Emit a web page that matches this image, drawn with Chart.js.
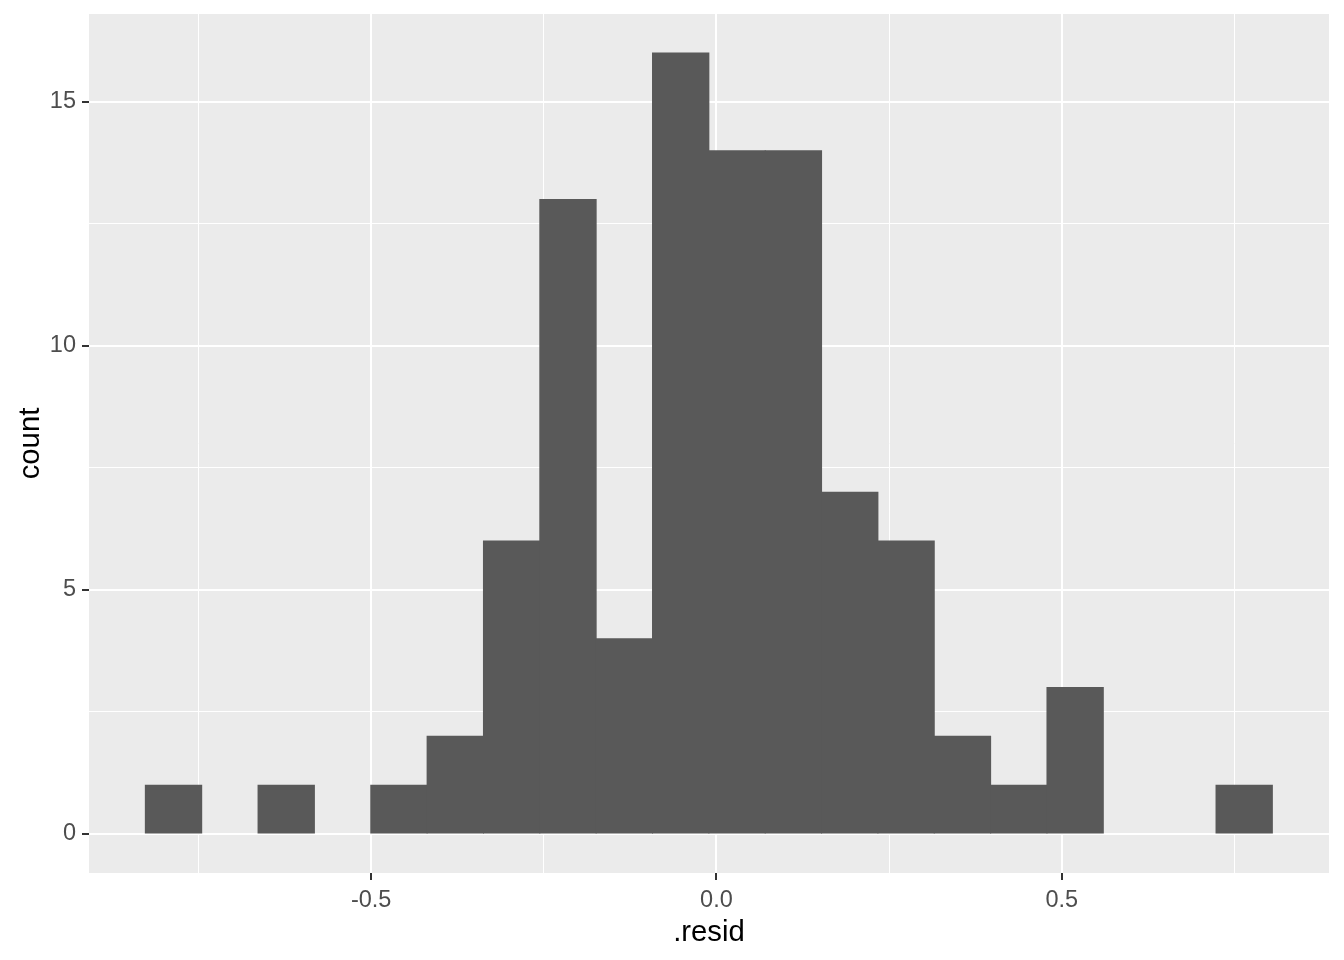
<!DOCTYPE html>
<html>
<head>
<meta charset="utf-8">
<script src="https://cdn.jsdelivr.net/npm/chart.js@4.4.1/dist/chart.umd.min.js"></script>
<style>
  html, body { margin: 0; padding: 0; background: #ffffff; }
  canvas { display: block; }
</style>
</head>
<body>
<canvas id="c" width="1344" height="960"></canvas>
<script>
// Histogram bins (centres) of .resid and their counts
const binCenters = [-0.7862, -0.7046, -0.6230, -0.5414, -0.4598, -0.3782, -0.2966, -0.2150, -0.1334, -0.0518,
                     0.0298,  0.1114,  0.1930,  0.2746,  0.3562,  0.4378,  0.5194,  0.6010,  0.6826,  0.7642];
const counts     = [1, 0, 1, 0, 1, 2, 6, 13, 4, 16, 14, 14, 7, 6, 2, 1, 3, 0, 0, 1];
const xRange = [-0.9086, 0.8870];
const yRange = [-0.8, 16.8];
const xMajorTicks = [-0.5, 0.0, 0.5];
const yMajorTicks = [0, 5, 10, 15];

const FONT = '"Liberation Sans", Arial, sans-serif';
const isMajorX = v => xMajorTicks.some(t => Math.abs(t - v) < 1e-6);
const isMajorY = v => yMajorTicks.some(t => Math.abs(t - v) < 1e-6);

const panelBg = {
  id: 'panelBg',
  beforeDraw(chart) {
    const {ctx, chartArea: a} = chart;
    ctx.save();
    ctx.fillStyle = '#EBEBEB';
    ctx.fillRect(a.left, a.top, a.right - a.left, a.bottom - a.top);
    ctx.restore();
  }
};

new Chart(document.getElementById('c'), {
  type: 'bar',
  data: {
    datasets: [{
      data: binCenters.map((x, i) => ({x: x, y: counts[i]})),
      backgroundColor: '#595959',
      borderWidth: 0,
      inflateAmount: c => (c.raw && c.raw.y === 0) ? 0 : 0.5,
      barPercentage: 1.0,
      categoryPercentage: 1.0
    }]
  },
  options: {
    responsive: false,
    devicePixelRatio: 1,
    animation: false,
    layout: { padding: { top: 14, right: 15, left: 0, bottom: 0 } },
    plugins: { legend: { display: false }, tooltip: { enabled: false } },
    scales: {
      x: {
        type: 'linear',
        min: xRange[0], max: xRange[1],
        offset: false,
        border: { display: false },
        grid: {
          offset: false,
          color: '#FFFFFF',
          lineWidth: c => isMajorX(c.tick.value) ? 2 : 1,
          drawTicks: true,
          tickLength: 7,
          tickWidth: 2,
          tickColor: c => isMajorX(c.tick.value) ? '#333333' : 'rgba(0,0,0,0)'
        },
        ticks: {
          stepSize: 0.25,
          includeBounds: false,
          autoSkip: false,
          maxRotation: 0,
          minRotation: 0,
          padding: 6,
          color: '#4D4D4D',
          font: { family: FONT, size: 23.5 },
          callback: v => isMajorX(v) ? v.toFixed(1) : ''
        },
        title: {
          display: true,
          text: '.resid',
          color: '#000000',
          font: { family: FONT, size: 29.3 },
          padding: { top: 0, bottom: 9.6 }
        },
        afterFit: s => { s.height = 87; s.paddingLeft = 0; s.paddingRight = 0; }
      },
      y: {
        type: 'linear',
        min: yRange[0], max: yRange[1],
        beginAtZero: false,
        border: { display: false },
        grid: {
          color: '#FFFFFF',
          lineWidth: c => isMajorY(c.tick.value) ? 2 : 1,
          drawTicks: true,
          tickLength: 7,
          tickWidth: 2,
          tickColor: c => isMajorY(c.tick.value) ? '#333333' : 'rgba(0,0,0,0)'
        },
        ticks: {
          stepSize: 2.5,
          includeBounds: false,
          autoSkip: false,
          padding: 6,
          color: '#4D4D4D',
          font: { family: FONT, size: 23.5 },
          callback: v => isMajorY(v) ? String(Math.round(v)) : ''
        },
        title: {
          display: true,
          text: 'count',
          color: '#000000',
          font: { family: FONT, size: 29.3 },
          padding: { top: 13, bottom: 0 }
        },
        afterFit: s => { s.width = 89; s.paddingTop = 0; s.paddingBottom = 0; }
      }
    }
  },
  plugins: [panelBg]
});
</script>
</body>
</html>
